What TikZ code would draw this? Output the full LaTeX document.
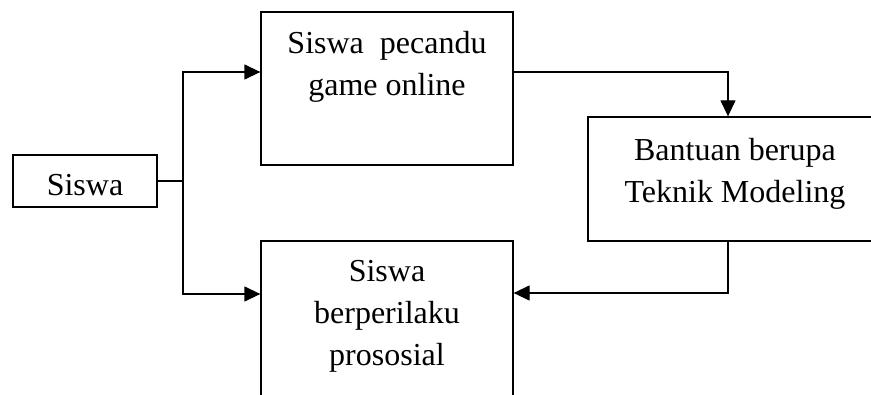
\documentclass[tikz,border=0pt]{standalone}
\usepackage{fontspec}
\setmainfont{Liberation Serif}
\usetikzlibrary{arrows.meta}
\begin{document}
\begin{tikzpicture}[x=1pt,y=1pt,
  box/.style={draw,line width=1.3pt,rectangle,inner sep=0pt},
  lbl/.style={inner sep=0pt,align=center,font=\fontsize{32}{42}\selectfont},
  link/.style={line width=1.3pt},
  arr/.style={link,-{Triangle[length=16pt,width=15pt]}}]
\useasboundingbox (0,0) rectangle (871,394);
% boxes
\node[box,minimum width=144pt,minimum height=52pt] (siswa) at (85,213) {};
\node[box,minimum width=252pt,minimum height=153pt] (game) at (387,305.5) {};
\node[box,minimum width=294pt,minimum height=124pt] (bantuan) at (735,215) {};
\node[box,minimum width=252pt,minimum height=179pt] (proso) at (387,63.5) {};
% box texts
\node[lbl,anchor=base] (siswaT) at (85,198) {Siswa};
\node[lbl,anchor=north] (gameT) at (387,362.7) {Siswa\ \ pecandu\\game online};
\node[lbl,anchor=north] (bantuanT) at (735,255.7) {Bantuan berupa\\Teknik Modeling};
\node[lbl,anchor=north] (prosoT) at (387,133.7) {Siswa\\berperilaku\\prososial};
% branch points
\coordinate (jt) at (183,322);
\coordinate (jb) at (183,100);
\coordinate (down) at (728,0);
% connectors
\draw[arr] (siswa.east) -| (jt) -- (jt -| game.west);
\draw[arr] (siswa.east) -| (jb) -- (jb -| proso.west);
\draw[arr] (jt -| game.east) -| (down |- bantuan.north);
\draw[arr] (down |- bantuan.south) |- (proso.east |- 0,101);
\end{tikzpicture}
\end{document}
